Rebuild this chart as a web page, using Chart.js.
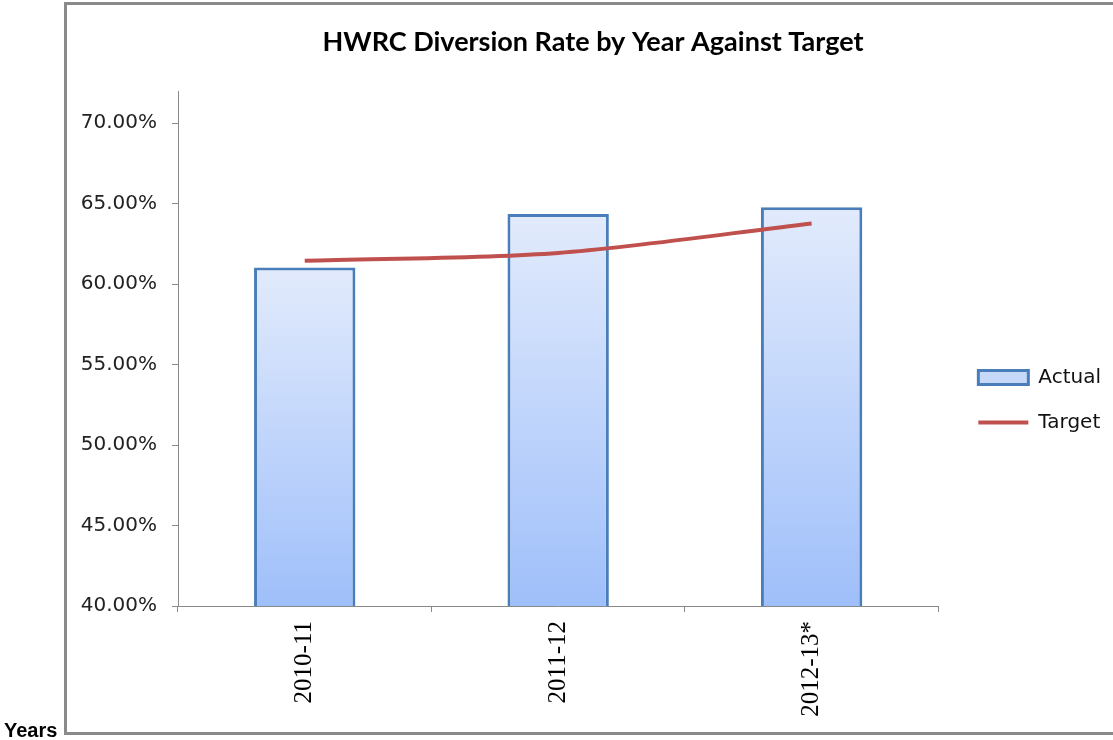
<!DOCTYPE html>
<html>
<head>
<meta charset="utf-8">
<script src="https://cdn.jsdelivr.net/npm/chart.js@4.4.1/dist/chart.umd.min.js"></script>
<style>
    body { margin: 0; background: #fff; }
    #chart { display: block; }
</style>
</head>
<body>
<canvas id="chart" width="1113" height="740"></canvas>
<script>
const years = ["2010-11", "2011-12", "2012-13*"];
const actualRate = [61.04, 64.35, 64.77];
const targetRate = [61.45, 61.94, 63.77];
const yTicks = [40, 45, 50, 55, 60, 65, 70];

const barBorder = "#4A7EBB";
const lineRed = "#C0504D";
const axisGrey = "#898989";

// outer frame and the "Years" caption from the source document
const framePlugin = {
    id: "frame",
    beforeDraw(chart) {
        const c = chart.ctx;
        c.save();
        c.strokeStyle = "#8A8A8A";
        c.lineWidth = 3;
        c.strokeRect(65.5, 3.5, 1100, 730);
        c.restore();
    },
    afterDraw(chart) {
        const c = chart.ctx;
        c.save();
        c.fillStyle = "#000";
        c.font = "bold 20px 'Liberation Sans', Arial";
        c.textBaseline = "alphabetic";
        c.fillText("Years", 4, 737);
        c.restore();
    }
};

function barFill(context) {
    const chart = context.chart;
    const area = chart.chartArea;
    if (!area || context.type !== "data") return "#C6D9F8";
    const top = chart.scales.y.getPixelForValue(context.raw);
    const g = chart.ctx.createLinearGradient(0, top, 0, area.bottom);
    g.addColorStop(0, "#E2EBFC");
    g.addColorStop(1, "#9FBFFA");
    return g;
}

let ctx = document.getElementById("chart").getContext("2d");

let diversionChart = new Chart(ctx, {
    type: "bar",
    data: {
        labels: years,
        datasets: [{
            type: "line",
            label: "Target",
            data: targetRate,
            borderColor: lineRed,
            borderWidth: 4,
            tension: 0.3,
            pointRadius: 0,
            fill: false,
            order: 0
        }, {
            label: "Actual",
            data: actualRate,
            backgroundColor: barFill,
            borderColor: barBorder,
            borderWidth: 3,
            borderSkipped: false,
            categoryPercentage: 1,
            barPercentage: 0.4,
            order: 1
        }]
    },
    options: {
        responsive: false,
        animation: false,
        layout: {
            padding: { left: 75, right: 2, top: 0, bottom: 0 }
        },
        plugins: {
            title: {
                display: true,
                text: "HWRC Diversion Rate by Year Against Target",
                color: "#000",
                font: { family: "Lato", size: 27, weight: "bold" },
                padding: { top: 26, bottom: 32.6 }
            },
            legend: {
                position: "right",
                title: {
                    display: true,
                    text: "",
                    font: { size: 10 },
                    padding: { top: 48, bottom: 0 }
                },
                labels: {
                    usePointStyle: true,
                    pointStyleWidth: 50,
                    boxHeight: 14,
                    padding: 25,
                    color: "#111",
                    font: { family: "DejaVu Sans", size: 20 },
                    generateLabels() {
                        return [{
                            text: "Actual",
                            fillStyle: "#C6D9F8",
                            strokeStyle: barBorder,
                            fontColor: "#111",
                            lineWidth: 3,
                            pointStyle: "rect",
                            datasetIndex: 1
                        }, {
                            text: "Target",
                            fillStyle: lineRed,
                            strokeStyle: lineRed,
                            fontColor: "#111",
                            lineWidth: 4,
                            pointStyle: "line",
                            datasetIndex: 0
                        }];
                    }
                }
            },
            tooltip: { enabled: false }
        },
        scales: {
            x: {
                grid: {
                    offset: true,
                    drawOnChartArea: false,
                    tickLength: 6,
                    color: axisGrey
                },
                border: { color: axisGrey },
                ticks: {
                    minRotation: 90,
                    maxRotation: 90,
                    padding: 9,
                    color: "#000",
                    font: { family: "Liberation Serif", size: 25 }
                },
                afterFit(scale) { scale.height = 134; }
            },
            y: {
                min: 40,
                max: 72,
                grid: {
                    drawOnChartArea: false,
                    tickLength: 6,
                    color: axisGrey
                },
                border: { color: axisGrey },
                afterBuildTicks(scale) {
                    scale.ticks = yTicks.map(v => ({ value: v }));
                },
                ticks: {
                    padding: 15,
                    color: "#222",
                    font: { family: "DejaVu Sans", size: 20 },
                    callback: v => v.toFixed(2) + "%"
                },
                afterFit(scale) { scale.width = 103; }
            },
            gap: {
                position: "right",
                grid: { display: false },
                border: { display: false },
                ticks: { display: false },
                afterFit(scale) { scale.width = 15; }
            }
        }
    },
    plugins: [framePlugin]
});
</script>
</body>
</html>
